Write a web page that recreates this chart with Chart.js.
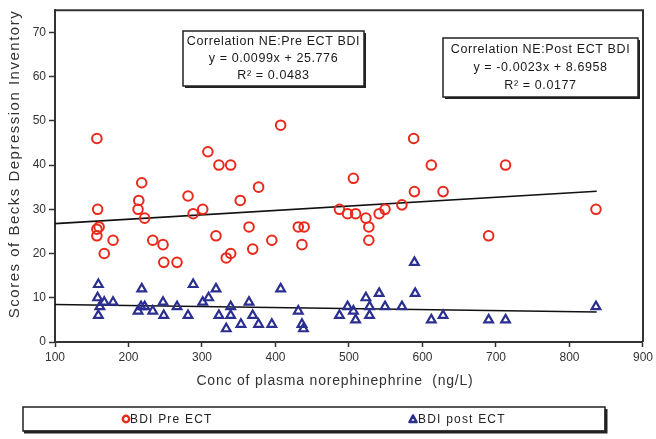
<!DOCTYPE html>
<html>
<head>
<meta charset="utf-8">
<script src="https://cdn.jsdelivr.net/npm/chart.js@4.4.1/dist/chart.umd.min.js"></script>
<style>
  html, body { margin: 0; padding: 0; background: #fff; }
  #wrap { width: 656px; height: 439px; position: relative; }
</style>
</head>
<body>
<div id="wrap"><canvas id="chart"></canvas></div>
<script>
// BDI before ECT (x = plasma NE ng/L, y = score)
const preX = [157, 160, 157, 157, 158, 179, 167, 218, 214, 213, 222, 233, 247, 248, 266, 281,
              288, 301, 308, 319, 323, 339, 339, 333, 352, 364, 369, 377, 395, 407,
              431, 436, 439, 487, 498, 506, 509, 523, 527, 527, 541, 549, 572, 588, 589, 612, 628,
              690, 713, 836];
const preY = [46, 26, 25.5, 24, 30, 23, 20, 36, 32, 30, 28, 23, 22, 18, 18, 33,
              29, 30, 43, 24, 40, 40, 20, 19, 32, 26, 21, 35, 23, 49,
              26, 22, 26, 30, 29, 37, 29, 28, 26, 23, 29, 30, 31, 46, 34, 40, 34,
              24, 40, 30];

// BDI after ECT
const postX = [159, 158, 167, 179, 161, 159, 218, 213, 217, 222, 233, 247, 248, 266, 281, 288,
               301, 309, 319, 323, 339, 339, 333, 353, 364, 369, 377, 395, 407,
               431, 436, 438, 487, 498, 506, 509, 523, 528, 528, 541, 549, 572, 589, 590, 612, 628,
               690, 713, 836];
const postY = [13, 10, 9, 9, 8, 6, 12, 7, 8, 8, 7, 9, 6, 8, 6, 13,
               9, 10, 12, 6, 8, 6, 3, 4, 9, 6, 4, 4, 12,
               7, 4, 3, 6, 8, 7, 5, 10, 8, 6, 11, 8, 8, 18, 11, 5, 6,
               5, 5, 8];

// trend lines as printed on the chart
const preSlope = 0.0099, preIntercept = 25.776, preR2 = '0.0483';
const postSlope = -0.0023, postIntercept = 8.6958, postR2 = '0.0177';
const trendRange = [100, 837];

const xTicks = [100, 200, 300, 400, 500, 600, 700, 800, 900];
const yTicks = [0, 10, 20, 30, 40, 50, 60, 70];

const FONT = "'Liberation Sans', Arial, sans-serif";

function toPoints(xs, ys) {
    return xs.map((x, i) => ({ x: x, y: ys[i] }));
}
function trend(slope, icpt) {
    return trendRange.map(x => ({ x: x, y: slope * x + icpt }));
}

function spacedText(ctx, txt, x, y, spacing) {
    ctx.letterSpacing = spacing + 'px';
    ctx.fillText(txt, x, y);
    ctx.letterSpacing = '0px';
}

function noteBox(ctx, l, t, r, b, lines) {
    ctx.save();
    ctx.fillStyle = '#fff';
    ctx.fillRect(l, t, r - l, b - t);
    ctx.strokeStyle = '#222';
    ctx.lineWidth = 1.5;
    ctx.strokeRect(l, t, r - l, b - t);
    // little shadow on bottom/right
    ctx.lineWidth = 2;
    ctx.beginPath();
    ctx.moveTo(l + 2, b + 1); ctx.lineTo(r + 1, b + 1); ctx.lineTo(r + 1, t + 2);
    ctx.stroke();
    ctx.fillStyle = '#1a1a1a';
    ctx.font = '12.5px ' + FONT;
    ctx.textAlign = 'center';
    ctx.textBaseline = 'middle';
    const cx = (l + r) / 2;
    const step = (b - t) / (lines.length + 0.2);
    lines.forEach((ln, i) => spacedText(ctx, ln, cx, t + step * (i + 0.6), 0.6));
    ctx.restore();
}

const extras = {
    id: 'extras',
    afterDraw(chart) {
        const ctx = chart.ctx;
        const a = chart.chartArea;

        // frame top + right
        ctx.save();
        ctx.strokeStyle = '#333';
        ctx.lineWidth = 2;
        ctx.beginPath();
        ctx.moveTo(a.left, a.top); ctx.lineTo(a.right, a.top); ctx.lineTo(a.right, a.bottom);
        ctx.stroke();
        ctx.restore();

        noteBox(ctx, 183, 31, 364, 86, [
            'Correlation NE:Pre ECT BDI',
            'y = ' + preSlope + 'x + ' + preIntercept,
            'R² = ' + preR2
        ]);
        noteBox(ctx, 443, 38, 638, 97, [
            'Correlation NE:Post ECT BDI',
            'y = ' + postSlope + 'x + ' + postIntercept,
            'R² = ' + postR2
        ]);

        // axis titles
        ctx.save();
        ctx.fillStyle = '#333';
        ctx.textAlign = 'center';
        ctx.textBaseline = 'middle';
        ctx.font = '14px ' + FONT;
        spacedText(ctx, 'Conc of plasma norephinephrine  (ng/L)', 335, 381, 0.8);
        ctx.translate(15, 164);
        ctx.rotate(-Math.PI / 2);
        ctx.font = '15px ' + FONT;
        spacedText(ctx, 'Scores of Becks Depression Inventory', 0, 0, 1.5);
        ctx.restore();

        // legend box
        ctx.save();
        ctx.fillStyle = '#fff';
        ctx.fillRect(23, 407, 582, 24);
        ctx.strokeStyle = '#222';
        ctx.lineWidth = 1.5;
        ctx.strokeRect(23, 407, 582, 24);
        ctx.lineWidth = 3;
        ctx.beginPath();
        ctx.moveTo(24, 432); ctx.lineTo(606, 432); ctx.lineTo(606, 409);
        ctx.stroke();

        ctx.strokeStyle = '#e8291c';
        ctx.lineWidth = 2.4;
        ctx.beginPath();
        ctx.arc(126, 419, 3.2, 0, Math.PI * 2);
        ctx.stroke();
        ctx.strokeStyle = '#2b2f8f';
        ctx.lineWidth = 2.6;
        ctx.lineJoin = 'round';
        ctx.beginPath();
        ctx.moveTo(413, 415.5); ctx.lineTo(416.5, 422); ctx.lineTo(409.5, 422); ctx.closePath();
        ctx.stroke();

        ctx.fillStyle = '#222';
        ctx.font = '12px ' + FONT;
        ctx.textAlign = 'left';
        ctx.textBaseline = 'middle';
        spacedText(ctx, 'BDI Pre ECT', 130, 419.5, 1.2);
        spacedText(ctx, 'BDI post ECT', 418, 419.5, 1.2);
        ctx.restore();
    }
};

const chart = new Chart(document.getElementById('chart'), {
    type: 'scatter',
    data: {
        datasets: [
            {
                label: 'BDI Pre ECT',
                data: toPoints(preX, preY),
                pointStyle: 'circle',
                pointRadius: 4.8,
                pointBorderWidth: 2,
                borderColor: '#e8291c',
                backgroundColor: 'rgba(0,0,0,0)'
            },
            {
                label: 'BDI post ECT',
                data: toPoints(postX, postY),
                pointStyle: 'triangle',
                pointRadius: 5,
                pointBorderWidth: 2.2,
                borderColor: '#2b2f8f',
                backgroundColor: 'rgba(0,0,0,0)'
            },
            {
                label: 'pre trend',
                data: trend(preSlope, preIntercept),
                showLine: true,
                pointRadius: 0,
                borderColor: '#111',
                borderWidth: 1.6
            },
            {
                label: 'post trend',
                data: trend(postSlope, postIntercept),
                showLine: true,
                pointRadius: 0,
                borderColor: '#111',
                borderWidth: 1.6
            }
        ]
    },
    options: {
        responsive: true,
        maintainAspectRatio: false,
        animation: false,
        events: [],
        layout: { padding: { left: 0, top: 4, right: 13, bottom: 0 } },
        plugins: {
            legend: { display: false },
            tooltip: { enabled: false }
        },
        scales: {
            x: {
                type: 'linear',
                min: 100,
                max: 900,
                afterBuildTicks: s => { s.ticks = xTicks.map(v => ({ value: v })); },
                afterFit: s => { s.height = 97; },
                ticks: { color: '#333', font: { family: FONT, size: 12 }, padding: 3, maxRotation: 0 },
                grid: { drawOnChartArea: false, tickLength: 5, color: '#333', tickWidth: 1.5 },
                border: { color: '#333', width: 2 }
            },
            y: {
                min: 0,
                max: 75,
                afterBuildTicks: s => { s.ticks = yTicks.map(v => ({ value: v })); },
                afterFit: s => { s.width = 55; },
                ticks: { color: '#333', font: { family: FONT, size: 12 }, padding: 3 },
                grid: { drawOnChartArea: false, tickLength: 6, color: '#333', tickWidth: 1.5 },
                border: { color: '#333', width: 2 }
            }
        }
    },
    plugins: [extras]
});
</script>
</body>
</html>
